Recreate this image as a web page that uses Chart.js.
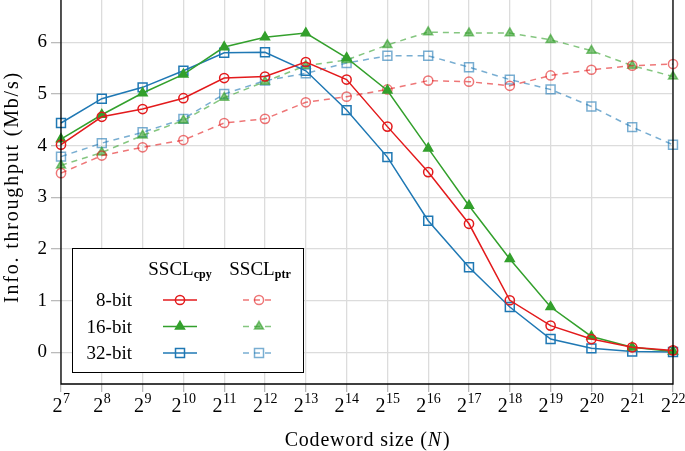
<!DOCTYPE html>
<html>
<head>
<meta charset="utf-8">
<script src="https://cdn.jsdelivr.net/npm/chart.js@4.4.1/dist/chart.umd.min.js"></script>
<style>
html, body { margin: 0; padding: 0; background: #fff; }
</style>
</head>
<body>
<canvas id="chart" width="685" height="451"></canvas>
<script>
// exponents of the codeword size N = 2^e
var exponents = [7, 8, 9, 10, 11, 12, 13, 14, 15, 16, 17, 18, 19, 20, 21, 22];
var yTicks = [0, 1, 2, 3, 4, 5, 6];
var rowLabels = ['8-bit', '16-bit', '32-bit'];

// SSCL_cpy
var cpy8  = [4.02, 4.56, 4.71, 4.92, 5.31, 5.34, 5.62, 5.28, 4.37, 3.49, 2.49, 1.01, 0.52, 0.26, 0.10, 0.04];
var cpy16 = [4.13, 4.60, 5.02, 5.38, 5.91, 6.10, 6.18, 5.70, 5.07, 3.95, 2.84, 1.81, 0.88, 0.31, 0.10, 0.02];
var cpy32 = [4.44, 4.91, 5.13, 5.45, 5.80, 5.81, 5.45, 4.69, 3.78, 2.55, 1.65, 0.88, 0.26, 0.08, 0.02, 0.01];
// SSCL_ptr
var ptr8  = [3.47, 3.81, 3.97, 4.11, 4.44, 4.52, 4.84, 4.95, 5.09, 5.26, 5.24, 5.16, 5.36, 5.47, 5.55, 5.58];
var ptr16 = [3.62, 3.87, 4.20, 4.49, 4.93, 5.24, 5.55, 5.66, 5.95, 6.20, 6.18, 6.18, 6.05, 5.84, 5.55, 5.34];
var ptr32 = [3.79, 4.05, 4.26, 4.52, 5.00, 5.26, 5.40, 5.60, 5.74, 5.74, 5.52, 5.28, 5.09, 4.76, 4.36, 4.02];

var RED = 'rgb(227,26,28)', GREEN = 'rgb(51,160,44)', BLUE = 'rgb(31,120,180)';
var RED_L = 'rgba(227,26,28,0.6)', GREEN_L = 'rgba(51,160,44,0.6)', BLUE_L = 'rgba(31,120,180,0.6)';
var SERIF = '"Liberation Serif", serif';

function pts(arr) {
  return arr.map(function (v, i) { return { x: exponents[i], y: v }; });
}

function series(label, arr, color, style, dashed) {
  var r = style === 'rect' ? 6.3 : (style === 'triangle' ? 5.2 : 4.6);
  return {
    label: label,
    data: pts(arr),
    borderColor: color,
    backgroundColor: style === 'triangle' ? color : 'rgba(0,0,0,0)',
    borderWidth: 1.5,
    borderDash: dashed ? [6, 5] : [],
    pointStyle: style,
    pointRadius: r,
    pointBorderWidth: 1.5,
    pointBorderColor: color,
    pointBackgroundColor: style === 'triangle' ? color : 'rgba(0,0,0,0)',
    tension: 0,
    clip: 8,
    order: dashed ? 1 : 0
  };
}

var datasets = [
  series('8-bit cpy', cpy8, RED, 'circle', false),
  series('16-bit cpy', cpy16, GREEN, 'triangle', false),
  series('32-bit cpy', cpy32, BLUE, 'rect', false),
  series('8-bit ptr', ptr8, RED_L, 'circle', true),
  series('16-bit ptr', ptr16, GREEN_L, 'triangle', true),
  series('32-bit ptr', ptr32, BLUE_L, 'rect', true)
];

function drawMarker(ctx, style, x, y, color) {
  ctx.save();
  ctx.setLineDash([]);
  ctx.strokeStyle = color;
  ctx.fillStyle = color;
  ctx.lineWidth = 1.5;
  ctx.beginPath();
  if (style === 'circle') {
    ctx.arc(x, y, 4.6, 0, Math.PI * 2);
    ctx.stroke();
  } else if (style === 'triangle') {
    var r = 5.2;
    ctx.moveTo(x, y - r);
    ctx.lineTo(x + r * 0.866, y + r * 0.5);
    ctx.lineTo(x - r * 0.866, y + r * 0.5);
    ctx.closePath();
    ctx.fill();
    ctx.stroke();
  } else {
    ctx.rect(x - 4.5, y - 4.5, 9, 9);
    ctx.stroke();
  }
  ctx.restore();
}

function drawSub(ctx, main, sub, cx, baseline) {
  ctx.font = '19px ' + SERIF;
  var w1 = ctx.measureText(main).width;
  ctx.font = 'bold 12px ' + SERIF;
  var w2 = ctx.measureText(sub).width;
  var x0 = cx - (w1 + w2) / 2;
  ctx.textAlign = 'left';
  ctx.font = '19px ' + SERIF;
  ctx.fillText(main, x0, baseline);
  ctx.font = 'bold 12px ' + SERIF;
  ctx.fillText(sub, x0 + w1, baseline + 3);
}

var decorPlugin = {
  id: 'decor',
  afterDraw: function (chart) {
    var ctx = chart.ctx;
    var a = chart.chartArea;
    var xs = chart.scales.x;
    ctx.save();

    // frame
    ctx.strokeStyle = '#000';
    ctx.lineWidth = 1.3;
    ctx.setLineDash([]);
    ctx.beginPath();
    ctx.moveTo(a.left, a.top);
    ctx.lineTo(a.left, a.bottom);
    ctx.lineTo(a.right, a.bottom);
    ctx.lineTo(a.right, a.top);
    ctx.stroke();

    // x tick labels 2^e
    ctx.fillStyle = '#000';
    ctx.textBaseline = 'alphabetic';
    exponents.forEach(function (e) {
      var x = xs.getPixelForValue(e);
      ctx.font = '20px ' + SERIF;
      var w1 = ctx.measureText('2').width;
      ctx.font = '14px ' + SERIF;
      var w2 = ctx.measureText(String(e)).width;
      var x0 = x - (w1 + w2) / 2;
      ctx.textAlign = 'left';
      ctx.font = '20px ' + SERIF;
      ctx.fillText('2', x0, 411.5);
      ctx.font = '14px ' + SERIF;
      ctx.fillText(String(e), x0 + w1 + 0.5, 403);
    });

    // x axis title with italic N
    var p1 = 'Codeword size (', p2 = 'N', p3 = ')';
    ctx.letterSpacing = '0.8px';
    ctx.font = '20px ' + SERIF;
    var w1 = ctx.measureText(p1).width, w3 = ctx.measureText(p3).width;
    ctx.font = 'italic 20px ' + SERIF;
    var w2 = ctx.measureText(p2).width;
    var tx = (a.left + a.right) / 2 - (w1 + w2 + w3) / 2;
    ctx.font = '20px ' + SERIF;
    ctx.fillText(p1, tx, 446);
    ctx.font = 'italic 20px ' + SERIF;
    ctx.fillText(p2, tx + w1, 446);
    ctx.font = '20px ' + SERIF;
    ctx.fillText(p3, tx + w1 + w2 + 1, 446);

    // y axis title
    ctx.save();
    ctx.translate(18, 187);
    ctx.rotate(-Math.PI / 2);
    ctx.letterSpacing = '1.8px';
    ctx.textAlign = 'center';
    ctx.font = '20px ' + SERIF;
    ctx.fillText('Info. throughput (Mb/s)', 0, 0);
    ctx.restore();
    ctx.letterSpacing = '0px';

    // legend table
    ctx.fillStyle = '#fff';
    ctx.fillRect(72, 248, 231, 124);
    ctx.strokeStyle = '#000';
    ctx.lineWidth = 1;
    ctx.strokeRect(72.5, 248.5, 231, 124);
    ctx.fillStyle = '#000';
    drawSub(ctx, 'SSCL', 'cpy', 180, 275);
    drawSub(ctx, 'SSCL', 'ptr', 260, 275);
    var rowsY = [300, 326.5, 353];
    var styles = ['circle', 'triangle', 'rect'];
    rowLabels.forEach(function (lab, i) {
      var y = rowsY[i];
      ctx.fillStyle = '#000';
      ctx.textAlign = 'right';
      ctx.font = '19px ' + SERIF;
      ctx.fillText(lab, 132, y + 6);
      var dc = datasets[i], dp = datasets[i + 3];
      ctx.lineWidth = 1.5;
      ctx.strokeStyle = dc.borderColor;
      ctx.setLineDash([]);
      ctx.beginPath();
      ctx.moveTo(163, y);
      ctx.lineTo(197, y);
      ctx.stroke();
      drawMarker(ctx, styles[i], 180, y, dc.borderColor);
      ctx.strokeStyle = dp.borderColor;
      ctx.setLineDash([6, 5]);
      ctx.beginPath();
      ctx.moveTo(243, y);
      ctx.lineTo(275, y);
      ctx.stroke();
      drawMarker(ctx, styles[i], 259, y, dp.borderColor);
    });
    ctx.restore();
  }
};

new Chart(document.getElementById('chart').getContext('2d'), {
  type: 'line',
  data: { datasets: datasets },
  options: {
    responsive: false,
    animation: false,
    devicePixelRatio: 1,
    layout: { autoPadding: false, padding: { top: 0, right: 12, bottom: 0, left: 0 } },
    plugins: { legend: { display: false }, tooltip: { enabled: false } },
    scales: {
      x: {
        type: 'linear',
        min: 7,
        max: 22,
        afterBuildTicks: function (scale) {
          scale.ticks = exponents.map(function (e) { return { value: e }; });
        },
        afterFit: function (scale) {
          scale.height = 67;
          scale.paddingLeft = 0;
          scale.paddingRight = 0;
        },
        ticks: { display: false },
        grid: { color: '#dcdcdc', lineWidth: 1.3, tickLength: 8, tickColor: '#bbbbbb' },
        border: { display: false }
      },
      y: {
        type: 'linear',
        min: -0.61,
        max: 6.82,
        afterBuildTicks: function (scale) {
          scale.ticks = yTicks.map(function (v) { return { value: v }; });
        },
        afterFit: function (scale) {
          scale.width = 61;
          scale.paddingTop = 0;
          scale.paddingBottom = 0;
        },
        ticks: { color: '#000', font: { family: SERIF, size: 19 }, padding: 4 },
        grid: { color: '#dcdcdc', lineWidth: 1.3, tickLength: 10, tickColor: '#bbbbbb' },
        border: { display: false }
      }
    }
  },
  plugins: [decorPlugin]
});
</script>
</body>
</html>
